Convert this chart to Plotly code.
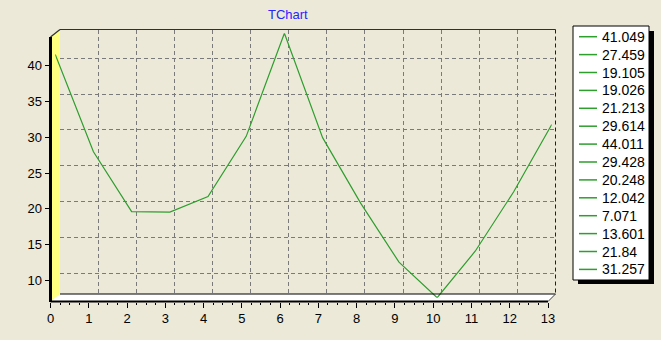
import plotly.graph_objects as go

# ---- data ----
x_index = list(range(14))
values = [41.049, 27.459, 19.105, 19.026, 21.213, 29.614, 44.011,
          29.428, 20.248, 12.042, 7.071, 13.601, 21.84, 31.257]
y_ticks = [10, 15, 20, 25, 30, 35, 40]
x_ticks = list(range(14))
title_text = "TChart"

W, H = 661, 340
BG = "#ECE9D8"
GREEN = "#2E9E2E"
FONT = "Liberation Sans, Arial, sans-serif"


def px(x):
    return x / W


def py(y):
    return 1 - y / H


# pixel frames (front axes, mid-depth line plane, back wall)
FX = (50.5, 548.0)
FY = (37.0, 301.5)
DXB, DYB = 9.5, 7.5
BX = (FX[0] + DXB, FX[1] + 7.5)
BY = (FY[0] - DYB, FY[1] - DYB)
MX = ((FX[0] + BX[0]) / 2, (FX[1] + BX[1]) / 2)
MY = ((FY[0] + BY[0]) / 2, (FY[1] + BY[1]) / 2)

ymin, ymax = min(values), max(values)
xmin, xmax = min(x_index), max(x_index)

fig = go.Figure()

# data line on the mid-depth plane
fig.add_trace(go.Scatter(x=x_index, y=values, mode="lines",
                         line=dict(color=GREEN, width=1.2),
                         xaxis="x3", yaxis="y3", showlegend=False,
                         hoverinfo="skip"))
# invisible trace to activate back-wall grid axes
fig.add_trace(go.Scatter(x=[xmin], y=[ymin], mode="markers",
                         marker=dict(opacity=0), xaxis="x2", yaxis="y2",
                         showlegend=False, hoverinfo="skip"))
# invisible trace for the front axes
fig.add_trace(go.Scatter(x=[xmin], y=[ymin], mode="markers",
                         marker=dict(opacity=0), xaxis="x", yaxis="y",
                         showlegend=False, hoverinfo="skip"))

shapes = []


def path(points):
    s = "M " + " L ".join(f"{px(a):.5f},{py(b):.5f}" for a, b in points) + " Z"
    return s


def seg(x0, y0, x1, y1, color, width, dash="solid"):
    shapes.append(dict(type="line", xref="paper", yref="paper",
                       x0=px(x0), y0=py(y0), x1=px(x1), y1=py(y1),
                       line=dict(color=color, width=width, dash=dash),
                       layer="above"))


# left wall (yellow)
shapes.append(dict(type="path", xref="paper", yref="paper",
                   path=path([(FX[0], FY[0]), (BX[0], BY[0]), (BX[0], BY[1]), (FX[0], FY[1])]),
                   fillcolor="#FFFF80", line=dict(width=0), layer="below"))
# floor (white)
shapes.append(dict(type="path", xref="paper", yref="paper",
                   path=path([(FX[0], FY[1]), (BX[0], BY[1]), (BX[1], BY[1]), (FX[1], FY[1])]),
                   fillcolor="white", line=dict(width=0), layer="below"))

# edges
seg(BX[0], BY[0], BX[1], BY[0], "#303030", 1.2)        # back wall top
seg(BX[0], BY[1], BX[1], BY[1], "#000000", 1)          # back wall bottom
seg(FX[0], FY[0], BX[0], BY[0], "#303030", 1.2)        # left wall top slant
seg(FX[1], FY[1], BX[1], BY[1], "#404040", 1)          # floor right slant
seg(BX[1], BY[0], BX[1], BY[1], "#202020", 1, "4px,3px")  # back wall right edge
seg(FX[0], FY[0], FX[0], FY[1] + 0.5, "#000000", 3)    # front y axis line
seg(FX[0], FY[1], FX[1], FY[1], "#000000", 2)          # front x axis line

# legend box with shadow
LX0, LY0, LX1, LY1 = 573, 26, 649, 280
shapes.append(dict(type="rect", xref="paper", yref="paper",
                   x0=px(LX0 + 5), y0=py(LY1 + 4), x1=px(LX1 + 5), y1=py(LY0 + 5),
                   fillcolor="black", line=dict(width=0), layer="below"))
shapes.append(dict(type="rect", xref="paper", yref="paper",
                   x0=px(LX0), y0=py(LY1), x1=px(LX1), y1=py(LY0),
                   fillcolor="white", line=dict(color="black", width=1), layer="below"))

annotations = []
row0, row_step = 36.7, 17.9
for i, v in enumerate(values):
    yc = row0 + i * row_step
    shapes.append(dict(type="line", xref="paper", yref="paper",
                       x0=px(579), x1=px(597), y0=py(yc), y1=py(yc),
                       line=dict(color=GREEN, width=1.5), layer="above"))
    annotations.append(dict(xref="paper", yref="paper", x=px(600), y=py(yc),
                            xanchor="left", yanchor="middle", showarrow=False,
                            text=f"{v:g}", font=dict(family=FONT, size=14, color="black")))

annotations.append(dict(xref="paper", yref="paper", x=px(288), y=py(14.5),
                        xanchor="center", yanchor="middle", showarrow=False,
                        text=title_text, font=dict(family=FONT, size=13, color="#2626FF")))

grid_common = dict(showgrid=True, gridcolor="#7A7A7A", gridwidth=1, griddash="4px,3px",
                   showticklabels=False, ticks="", zeroline=False, showline=False,
                   fixedrange=True, automargin=False)
hidden = dict(showgrid=False, showticklabels=False, ticks="", zeroline=False,
              showline=False, fixedrange=True, automargin=False)

fig.update_layout(
    template="none",
    width=W, height=H,
    margin=dict(l=0, r=0, t=0, b=0, pad=0, autoexpand=False),
    paper_bgcolor=BG, plot_bgcolor="rgba(0,0,0,0)",
    showlegend=False,
    font=dict(family=FONT, size=13, color="black"),
    xaxis=dict(domain=[px(FX[0]), px(FX[1])], range=[xmin, xmax], anchor="y",
               tickvals=x_ticks, ticktext=[str(t) for t in x_ticks],
               ticks="outside", ticklen=5, tickwidth=1, tickcolor="black",
               minor=dict(ticks="outside", ticklen=2.5, dtick=0.25, tickcolor="black", showgrid=False),
               showgrid=False, zeroline=False, showline=False, automargin=False,
               tickfont=dict(family=FONT, size=13, color="black"), fixedrange=True),
    yaxis=dict(domain=[py(FY[1]), py(FY[0])], range=[ymin, ymax], anchor="x",
               tickvals=y_ticks, ticks="outside", ticklen=5, tickwidth=1, tickcolor="black",
               showgrid=False, zeroline=False, showline=False, automargin=False,
               tickfont=dict(family=FONT, size=13, color="black"), fixedrange=True),
    xaxis2=dict(domain=[px(BX[0]), px(BX[1])], range=[xmin, xmax], anchor="y2",
                tickvals=x_ticks[:-1], **grid_common),
    yaxis2=dict(domain=[py(BY[1]), py(BY[0])], range=[ymin, ymax], anchor="x2",
                tickvals=y_ticks, **grid_common),
    xaxis3=dict(domain=[px(MX[0]), px(MX[1])], range=[xmin, xmax], anchor="y3", **hidden),
    yaxis3=dict(domain=[py(MY[1]), py(MY[0])], range=[ymin, ymax], anchor="x3", **hidden),
    shapes=shapes,
    annotations=annotations,
)

fig.write_html(
    "out.html",
    config={"displayModeBar": False, "staticPlot": True},
    post_script="document.body.style.margin='0px';document.body.style.overflow='hidden';",
)
